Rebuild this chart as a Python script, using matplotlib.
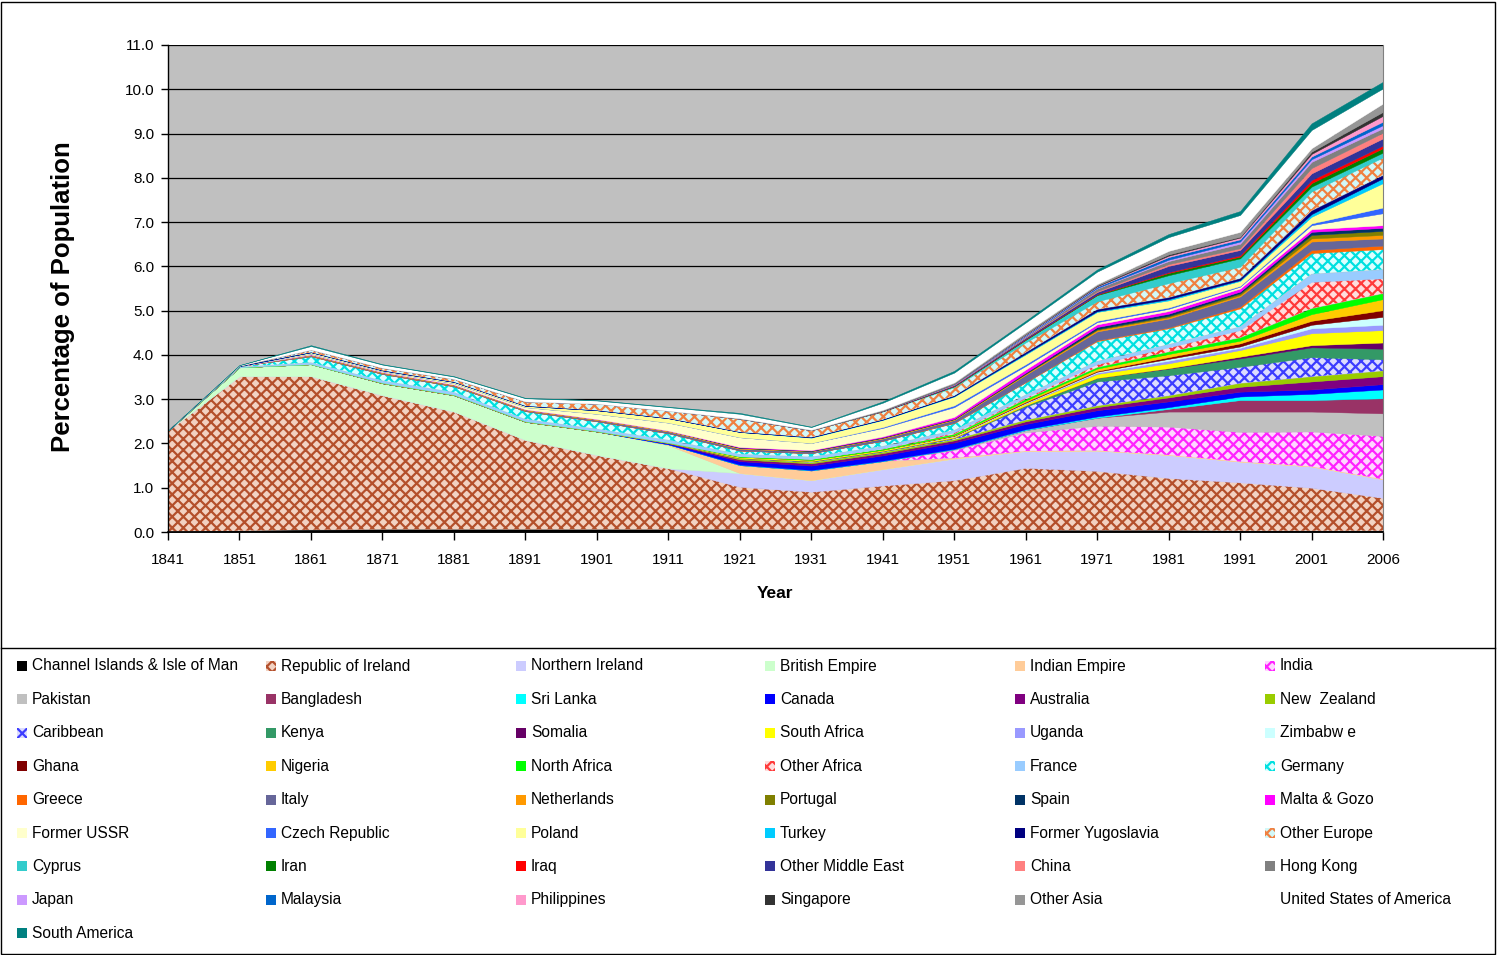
import matplotlib
matplotlib.use('Agg')
import matplotlib.pyplot as plt
from matplotlib.patches import Rectangle
from matplotlib.lines import Line2D

plt.rcParams['font.family'] = ['Liberation Sans', 'DejaVu Sans']
plt.rcParams['hatch.linewidth'] = 1.6

years = ['1841', '1851', '1861', '1871', '1881', '1891', '1901', '1911', '1921',
         '1931', '1941', '1951', '1961', '1971', '1981', '1991', '2001', '2006']

channel_islands = [0.01, 0.03, 0.05, 0.06, 0.06, 0.06, 0.06, 0.06, 0.06, 0.05, 0.05, 0.04, 0.04, 0.04, 0.04, 0.03, 0.03, 0.03]
republic_of_ireland = [2.28, 3.49, 3.47, 3.03, 2.66, 2.02, 1.68, 1.38, 0.96, 0.86, 1.00, 1.13, 1.41, 1.34, 1.18, 1.09, 0.97, 0.74]
northern_ireland = [0, 0, 0, 0, 0, 0, 0, 0, 0.31, 0.26, 0.37, 0.49, 0.38, 0.46, 0.52, 0.47, 0.48, 0.42]
british_empire = [0, 0.20, 0.27, 0.27, 0.37, 0.41, 0.53, 0.52, 0, 0, 0, 0, 0, 0, 0, 0, 0, 0]
indian_empire = [0, 0, 0, 0, 0, 0, 0, 0.02, 0.18, 0.22, 0.18, 0.01, 0, 0, 0, 0, 0, 0]
india = [0, 0, 0, 0, 0, 0, 0, 0, 0, 0, 0, 0.18, 0.42, 0.56, 0.64, 0.67, 0.79, 0.98]
pakistan = [0, 0, 0, 0, 0, 0, 0, 0, 0, 0, 0, 0.02, 0.05, 0.18, 0.34, 0.46, 0.45, 0.51]
bangladesh = [0, 0, 0, 0, 0, 0, 0, 0, 0, 0, 0, 0, 0, 0, 0.06, 0.26, 0.26, 0.34]
sri_lanka = [0, 0, 0, 0, 0, 0, 0, 0, 0.01, 0.01, 0.01, 0.01, 0.02, 0.03, 0.04, 0.08, 0.14, 0.20]
canada = [0, 0, 0, 0, 0, 0, 0, 0.02, 0.08, 0.10, 0.12, 0.14, 0.12, 0.14, 0.13, 0.11, 0.10, 0.12]
australia = [0, 0, 0, 0, 0, 0, 0, 0.01, 0.04, 0.05, 0.05, 0.05, 0.06, 0.07, 0.09, 0.11, 0.18, 0.18]
new_zealand = [0, 0, 0, 0, 0, 0, 0, 0, 0.02, 0.02, 0.02, 0.02, 0.03, 0.03, 0.04, 0.08, 0.11, 0.12]
caribbean = [0, 0, 0, 0, 0, 0, 0, 0, 0.01, 0.02, 0.02, 0.03, 0.30, 0.55, 0.46, 0.37, 0.44, 0.26]
kenya = [0, 0, 0, 0, 0, 0, 0, 0, 0, 0.01, 0.01, 0.01, 0.03, 0.08, 0.15, 0.19, 0.22, 0.24]
somalia = [0, 0, 0, 0, 0, 0, 0, 0, 0, 0, 0, 0, 0, 0, 0.01, 0.04, 0.05, 0.14]
south_africa = [0, 0, 0, 0.01, 0.01, 0.01, 0.01, 0.01, 0.03, 0.03, 0.03, 0.03, 0.04, 0.09, 0.11, 0.15, 0.27, 0.28]
uganda = [0, 0, 0, 0, 0, 0, 0, 0, 0, 0, 0, 0, 0.01, 0.03, 0.06, 0.05, 0.11, 0.12]
zimbabwe = [0, 0, 0, 0, 0, 0, 0, 0, 0, 0, 0, 0.01, 0.01, 0.02, 0.04, 0.03, 0.08, 0.18]
ghana = [0, 0, 0, 0, 0, 0, 0, 0, 0, 0, 0, 0.01, 0.02, 0.02, 0.04, 0.07, 0.09, 0.15]
nigeria = [0, 0, 0, 0, 0, 0, 0, 0, 0, 0, 0, 0.01, 0.03, 0.05, 0.07, 0.06, 0.15, 0.25]
north_africa = [0, 0, 0, 0, 0, 0, 0, 0, 0, 0.01, 0.01, 0.02, 0.03, 0.03, 0.05, 0.07, 0.13, 0.13]
other_africa = [0, 0, 0, 0, 0, 0, 0, 0, 0.01, 0.01, 0.02, 0.04, 0.04, 0.07, 0.10, 0.17, 0.60, 0.34]
france = [0, 0.01, 0.04, 0.05, 0.06, 0.05, 0.05, 0.06, 0.05, 0.05, 0.05, 0.05, 0.06, 0.07, 0.07, 0.08, 0.18, 0.20]
germany = [0, 0.02, 0.14, 0.15, 0.13, 0.18, 0.17, 0.15, 0.08, 0.08, 0.12, 0.16, 0.28, 0.45, 0.36, 0.41, 0.47, 0.46]
greece = [0, 0, 0, 0, 0, 0, 0, 0, 0, 0, 0, 0.01, 0.01, 0.02, 0.02, 0.04, 0.07, 0.08]
italy = [0, 0, 0.02, 0.02, 0.02, 0.02, 0.03, 0.04, 0.04, 0.04, 0.05, 0.06, 0.16, 0.20, 0.20, 0.23, 0.19, 0.16]
netherlands = [0, 0, 0.02, 0.02, 0.02, 0.02, 0.02, 0.02, 0.02, 0.01, 0.02, 0.02, 0.02, 0.03, 0.03, 0.03, 0.07, 0.08]
portugal = [0, 0, 0, 0, 0, 0, 0, 0, 0, 0, 0, 0, 0.01, 0.02, 0.03, 0.04, 0.08, 0.09]
spain = [0, 0, 0, 0, 0, 0, 0, 0, 0.01, 0.01, 0.01, 0.01, 0.02, 0.05, 0.05, 0.04, 0.07, 0.07]
malta_gozo = [0, 0, 0, 0, 0, 0, 0, 0, 0.01, 0.01, 0.02, 0.04, 0.07, 0.06, 0.06, 0.07, 0.06, 0.06]
former_ussr = [0, 0, 0.02, 0.02, 0.03, 0.05, 0.12, 0.18, 0.22, 0.16, 0.19, 0.22, 0.08, 0.05, 0.05, 0.04, 0.09, 0.27]
czech_republic = [0, 0, 0, 0, 0, 0, 0, 0, 0, 0, 0.02, 0.04, 0.04, 0.03, 0.03, 0.02, 0.04, 0.13]
poland = [0, 0, 0.03, 0.02, 0.03, 0.03, 0.08, 0.10, 0.12, 0.12, 0.16, 0.20, 0.22, 0.20, 0.16, 0.11, 0.15, 0.55]
turkey = [0, 0, 0, 0, 0, 0, 0, 0, 0, 0.01, 0.01, 0.01, 0.02, 0.02, 0.03, 0.02, 0.06, 0.11]
former_yugoslavia = [0, 0, 0, 0, 0, 0, 0, 0, 0, 0, 0, 0.01, 0.03, 0.04, 0.04, 0.04, 0.08, 0.07]
other_europe = [0, 0.01, 0.06, 0.06, 0.07, 0.10, 0.15, 0.17, 0.30, 0.16, 0.18, 0.19, 0.22, 0.18, 0.32, 0.26, 0.43, 0.40]
cyprus = [0, 0, 0, 0, 0, 0, 0, 0, 0, 0, 0.01, 0.02, 0.06, 0.14, 0.18, 0.19, 0.11, 0.11]
iran = [0, 0, 0, 0, 0, 0, 0, 0, 0, 0, 0, 0.01, 0.01, 0.01, 0.05, 0.04, 0.08, 0.10]
iraq = [0, 0, 0, 0, 0, 0, 0, 0, 0, 0, 0, 0, 0.01, 0.01, 0.02, 0.03, 0.07, 0.06]
other_middle_east = [0, 0, 0, 0, 0, 0, 0, 0, 0, 0, 0.01, 0.02, 0.03, 0.05, 0.14, 0.12, 0.15, 0.16]
china = [0, 0, 0, 0, 0, 0, 0, 0, 0, 0, 0, 0.01, 0.01, 0.02, 0.04, 0.04, 0.12, 0.13]
hong_kong = [0, 0, 0, 0, 0, 0, 0, 0, 0, 0, 0, 0.01, 0.02, 0.06, 0.07, 0.10, 0.14, 0.10]
japan = [0, 0, 0, 0, 0, 0, 0, 0, 0, 0, 0, 0, 0.01, 0.01, 0.03, 0.05, 0.06, 0.07]
malaysia = [0, 0, 0, 0, 0, 0, 0, 0, 0, 0, 0, 0.01, 0.02, 0.03, 0.06, 0.05, 0.06, 0.08]
philippines = [0, 0, 0, 0, 0, 0, 0, 0, 0, 0, 0, 0, 0.01, 0.01, 0.03, 0.04, 0.06, 0.13]
singapore = [0, 0, 0, 0, 0, 0, 0, 0, 0, 0, 0, 0, 0.01, 0.02, 0.03, 0.02, 0.05, 0.09]
other_asia = [0, 0, 0, 0, 0, 0, 0, 0, 0.01, 0.01, 0.02, 0.03, 0.04, 0.03, 0.08, 0.11, 0.08, 0.19]
united_states = [0, 0.01, 0.08, 0.07, 0.05, 0.07, 0.07, 0.08, 0.10, 0.06, 0.16, 0.22, 0.22, 0.28, 0.31, 0.38, 0.41, 0.34]
south_america = [0, 0, 0.02, 0.01, 0.01, 0.01, 0.01, 0.01, 0.02, 0.01, 0.03, 0.04, 0.04, 0.05, 0.07, 0.09, 0.15, 0.15]

# (name, values, face colour, hatch colour or None)
series = [
    ('Channel Islands & Isle of Man', channel_islands, '#000000', None),
    ('Republic of Ireland', republic_of_ireland, '#f2d2c2', '#b4502c'),
    ('Northern Ireland', northern_ireland, '#ccccff', None),
    ('British Empire', british_empire, '#ccffcc', None),
    ('Indian Empire', indian_empire, '#ffcc99', None),
    ('India', india, '#ffd6ff', '#ff22ff'),
    ('Pakistan', pakistan, '#c0c0c0', None),
    ('Bangladesh', bangladesh, '#993366', None),
    ('Sri Lanka', sri_lanka, '#00ffff', None),
    ('Canada', canada, '#0000ff', None),
    ('Australia', australia, '#800080', None),
    ('New  Zealand', new_zealand, '#99cc00', None),
    ('Caribbean', caribbean, '#dcdcff', '#3c3cff'),
    ('Kenya', kenya, '#339966', None),
    ('Somalia', somalia, '#660066', None),
    ('South Africa', south_africa, '#ffff00', None),
    ('Uganda', uganda, '#9999ff', None),
    ('Zimbabw e', zimbabwe, '#ccffff', None),
    ('Ghana', ghana, '#800000', None),
    ('Nigeria', nigeria, '#ffcc00', None),
    ('North Africa', north_africa, '#00ff00', None),
    ('Other Africa', other_africa, '#ffdcdc', '#ff3a3a'),
    ('France', france, '#99ccff', None),
    ('Germany', germany, '#dcffff', '#00e0e0'),
    ('Greece', greece, '#ff6600', None),
    ('Italy', italy, '#666699', None),
    ('Netherlands', netherlands, '#ff9900', None),
    ('Portugal', portugal, '#808000', None),
    ('Spain', spain, '#003366', None),
    ('Malta & Gozo', malta_gozo, '#ff00ff', None),
    ('Former USSR', former_ussr, '#ffffcc', None),
    ('Czech Republic', czech_republic, '#3366ff', None),
    ('Poland', poland, '#ffff99', None),
    ('Turkey', turkey, '#00ccff', None),
    ('Former Yugoslavia', former_yugoslavia, '#000080', None),
    ('Other Europe', other_europe, '#d2f8f8', '#f08040'),
    ('Cyprus', cyprus, '#33cccc', None),
    ('Iran', iran, '#008000', None),
    ('Iraq', iraq, '#ff0000', None),
    ('Other Middle East', other_middle_east, '#333399', None),
    ('China', china, '#ff8080', None),
    ('Hong Kong', hong_kong, '#808080', None),
    ('Japan', japan, '#cc99ff', None),
    ('Malaysia', malaysia, '#0066cc', None),
    ('Philippines', philippines, '#ff99cc', None),
    ('Singapore', singapore, '#333333', None),
    ('Other Asia', other_asia, '#969696', None),
    ('United States of America', united_states, '#ffffff', None),
    ('South America', south_america, '#008080', None),
]

W, H = 1497, 955
fig = plt.figure(figsize=(W / 100, H / 100), dpi=100)
ax = fig.add_axes([168 / W, 1 - 532 / H, (1383 - 168) / W, (532 - 45) / H])
ax.set_facecolor('#c0c0c0')

x = list(range(len(years)))
polys = ax.stackplot(x, *[s[1] for s in series], colors=[s[2] for s in series])
for p, s in zip(polys, series):
    if s[3] is not None:
        p.set_hatch('xxx')
        p.set_edgecolor(s[3])
        p.set_linewidth(0)
    else:
        p.set_edgecolor(s[2])
        p.set_linewidth(0.3)

ax.set_xlim(0, len(years) - 1)
ax.set_ylim(0, 11)
ax.set_yticks(range(12))
ax.set_yticklabels(['%.1f' % v for v in range(12)])
ax.set_xticks(x)
ax.set_xticklabels(years)
ax.set_axisbelow(True)
ax.yaxis.grid(True, color='black', linewidth=0.9)
ax.tick_params(axis='y', direction='out', length=5, width=1, labelsize=11, pad=5)
ax.tick_params(axis='x', direction='out', length=6, width=1, labelsize=11, pad=9)
ax.spines['top'].set_visible(False)
ax.spines['right'].set_color('#808080')
ax.spines['left'].set_linewidth(1)
ax.spines['bottom'].set_linewidth(1.2)

fig.text(63 / W, 1 - 297 / H, 'Percentage of Population', rotation=90,
         ha='center', va='center', fontsize=18.5, fontweight='bold')
fig.text(775 / W, 1 - 594 / H, 'Year', ha='center', va='center',
         fontsize=12.5, fontweight='bold')

# legend, row-major like the original
col_x = [17, 266, 516, 765, 1015, 1265]
for i, (name, vals, fc, hc) in enumerate(series):
    row, col = divmod(i, 6)
    xm = col_x[col]
    yc = 666 + row * 33.4
    r = Rectangle((xm / W, 1 - (yc + 5) / H), 10 / W, 10 / H,
                  transform=fig.transFigure, facecolor=fc,
                  edgecolor=hc if hc else 'none', linewidth=0,
                  hatch='xxx' if hc else None)
    fig.add_artist(r)
    fig.text((xm + 15) / W, 1 - yc / H, name, ha='left', va='center', fontsize=11.2)

fig.add_artist(Rectangle((1.5 / W, 1.5 / H), (W - 3.5) / W, (H - 3.5) / H,
                         transform=fig.transFigure, fill=False,
                         edgecolor='black', linewidth=1))
fig.add_artist(Line2D([1.5 / W, (W - 2) / W], [1 - 648 / H, 1 - 648 / H],
                      transform=fig.transFigure, color='black', linewidth=1))

fig.savefig('out.png', dpi=100)
